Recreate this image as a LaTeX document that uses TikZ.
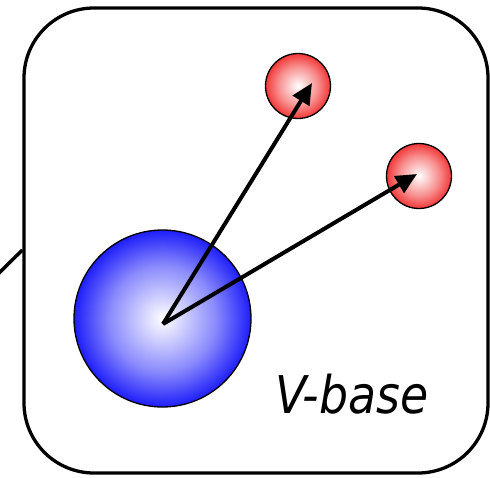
\documentclass[tikz,border=0pt]{standalone}
\usepackage{fontspec}
\newfontfamily\labelfont[FakeStretch=0.88]{DejaVu Sans}
\usetikzlibrary{arrows.meta}
\definecolor{ballblue}{RGB}{30,30,250}
\definecolor{ballred}{RGB}{242,55,55}
\pgfdeclareradialshading{blueball}{\pgfpointorigin}{color(0bp)=(white); color(15bp)=(ballblue!52!white); color(25bp)=(ballblue); color(50bp)=(ballblue)}
\pgfdeclareradialshading{redball}{\pgfpointorigin}{color(0bp)=(white); color(15bp)=(ballred!55!white); color(25bp)=(ballred); color(50bp)=(ballred)}
\tikzset{ball/.style={draw, circle, inner sep=0pt, line width=1.3pt},
    bigball/.style={ball, minimum size=177pt, shading=blueball},
    smallball/.style={ball, minimum size=65pt, shading=redball},
    vec/.style={line width=4pt, -{Triangle[length=21pt,width=19pt]}}
}
\tikzstyle{frame} = [draw, rounded corners=70pt, line width=3.3pt, minimum width=464pt, minimum height=465pt]

\begin{document}
\begin{tikzpicture}[x=1pt, y=-1pt]
    \useasboundingbox (0,0) rectangle (490,477);
    \node [frame] (vbox) at (256,240.5) {};
    \coordinate (link) at (-3,275);
    \draw [line width=3.5pt] (link) -- ([yshift=-9.5pt]vbox.west);

    \node [bigball] (base) at (162.5,318.5) {};
    \node [smallball] (va) at (298,86) {};
    \node [smallball] (vb) at (419,176) {};

    \coordinate (orig) at (163,324);
    \coordinate (tipa) at (312,83);
    \coordinate (tipb) at (417,174);
    \draw [vec] (orig) -- (tipa);
    \draw [vec] (orig) -- (tipb);

    \node [anchor=base west, font=\labelfont\itshape\fontsize{52}{52}\selectfont] (lbl) at (272,413) {V-base};
\end{tikzpicture}
\end{document}
